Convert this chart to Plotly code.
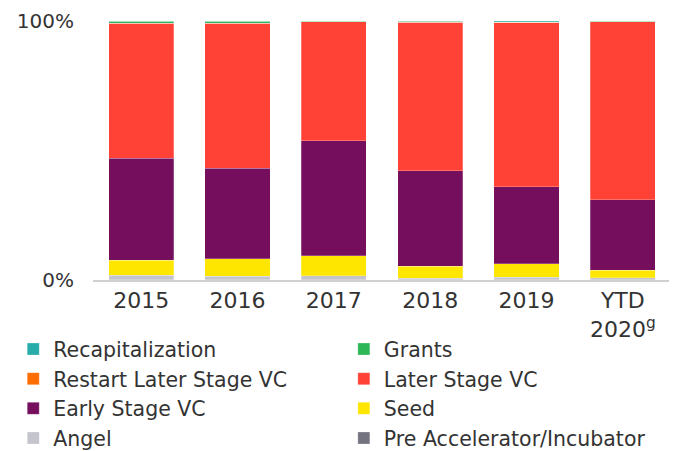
import plotly.graph_objects as go

categories = ["2015", "2016", "2017", "2018", "2019", "YTD<br>2020<sup>g</sup>"]

pre_accelerator = [0.1, 0.1, 0.1, 0.1, 0.1, 0.1]
angel = [1.8, 1.3, 1.5, 0.5, 0.9, 0.8]
seed = [5.8, 6.8, 7.7, 4.7, 5.3, 2.9]
early_stage = [39.3, 34.9, 44.5, 36.8, 29.7, 27.1]
later_stage = [52.2, 56.0, 45.9, 57.4, 63.4, 68.9]
restart_later = [0.0, 0.0, 0.0, 0.1, 0.1, 0.0]
grants = [0.8, 0.9, 0.3, 0.4, 0.1, 0.2]
recapitalization = [0.0, 0.0, 0.0, 0.0, 0.4, 0.0]

# (name, values, colour, legend column)
series = [
    ("Pre Accelerator/Incubator", pre_accelerator, "#747480", "legend2"),
    ("Angel", angel, "#C4C4CD", "legend"),
    ("Seed", seed, "#FFE600", "legend2"),
    ("Early Stage VC", early_stage, "#750E5C", "legend"),
    ("Later Stage VC", later_stage, "#FF4136", "legend2"),
    ("Restart Later Stage VC", restart_later, "#FF6D00", "legend"),
    ("Grants", grants, "#2DB757", "legend2"),
    ("Recapitalization", recapitalization, "#27ACAA", "legend"),
]

fig = go.Figure()
for name, vals, color, leg in series:
    fig.add_trace(go.Bar(
        x=categories, y=vals, name=name, legend=leg,
        marker=dict(color=color, line=dict(color="rgba(255,255,255,0.5)", width=0.5)),
    ))

legend_font = dict(family="DejaVu Sans, sans-serif", size=20.5, color="#333333")
fig.update_layout(
    width=669, height=443,
    barmode="stack",
    bargap=0.325,
    plot_bgcolor="white",
    paper_bgcolor="white",
    margin=dict(l=85, r=6, t=13, b=170.5, autoexpand=False),
    font=dict(family="DejaVu Sans, sans-serif", size=20, color="#333333"),
    xaxis=dict(
        showline=True, linecolor="#d0d0d0", linewidth=2,
        ticks="", showgrid=False,
        tickfont=dict(family="DejaVu Sans, sans-serif", size=22, color="#333333"),
    ),
    yaxis=dict(
        range=[0, 100], tickvals=[0, 100], ticktext=["0%", "100%"],
        showgrid=False, zeroline=False, showline=False, ticks="",
        ticklabelstandoff=18,
        tickfont=dict(family="DejaVu Sans, sans-serif", size=20, color="#333333"),
    ),
    legend=dict(
        orientation="v", traceorder="reversed",
        x=-0.138, xanchor="left", y=-0.19, yanchor="top",
        font=legend_font, bgcolor="rgba(0,0,0,0)",
    ),
    legend2=dict(
        orientation="v", traceorder="reversed",
        x=0.434, xanchor="left", y=-0.19, yanchor="top",
        font=legend_font, bgcolor="rgba(0,0,0,0)",
    ),
)

fig.write_html("out.html")
